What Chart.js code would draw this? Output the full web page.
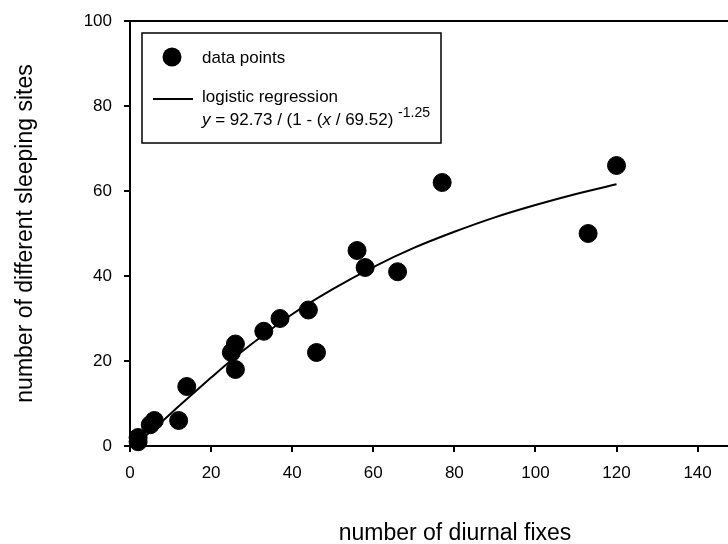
<!DOCTYPE html>
<html>
<head>
<meta charset="utf-8">
<script src="https://cdn.jsdelivr.net/npm/chart.js@4"></script>
<style>
  body { margin: 0; background: #fff; overflow: hidden; }
  canvas { display: block; }
</style>
</head>
<body>
<canvas id="sleepChart" width="728" height="544"></canvas>
<script>
// observed data
const diurnalFixes = [2, 2, 5, 6, 12, 14, 25, 26, 26, 33, 37, 44, 46, 56, 58, 66, 77, 113, 120];
const sleepingSites = [1, 2, 5, 6, 6, 14, 22, 24, 18, 27, 30, 32, 22, 46, 42, 41, 62, 50, 66];

// fitted curve
const fitX = [1, 2, 5, 10, 15, 20, 25, 30, 40, 50, 60, 70, 80, 90, 100, 110, 120];
const fitY = [0.5, 1.1, 3.3, 7.6, 11.9, 16.1, 20.2, 24.0, 31.0, 36.9, 42.1, 46.6, 50.4, 53.8, 56.7, 59.3, 61.6];

const xTicks = [0, 20, 40, 60, 80, 100, 120, 140];
const yTicks = [0, 20, 40, 60, 80, 100];

const FONT = "'Liberation Sans', Arial, sans-serif";

const pointData = diurnalFixes.map((x, i) => ({ x: x, y: sleepingSites[i] }));
const fitData = fitX.map((x, i) => ({ x: x, y: fitY[i] }));

const decorations = {
  id: 'decorations',
  afterDraw(chart) {
    const c = chart.ctx;
    const a = chart.chartArea;
    c.save();
    // top frame line
    c.strokeStyle = '#000';
    c.lineWidth = 2;
    c.beginPath();
    c.moveTo(a.left - 1, a.top);
    c.lineTo(a.right, a.top);
    c.stroke();

    // axis titles
    c.fillStyle = '#000';
    c.font = '23px ' + FONT;
    c.textAlign = 'center';
    c.textBaseline = 'middle';
    c.fillText('number of diurnal fixes', 455, 534);
    c.save();
    c.translate(26, (a.top + a.bottom) / 2);
    c.rotate(-Math.PI / 2);
    c.fillText('number of different sleeping sites', 0, 0);
    c.restore();

    // legend
    c.lineWidth = 1.5;
    c.strokeRect(142, 33, 299, 110);
    c.beginPath();
    c.arc(172, 57, 9.5, 0, Math.PI * 2);
    c.fill();
    c.lineWidth = 2;
    c.beginPath();
    c.moveTo(153, 99);
    c.lineTo(193, 99);
    c.stroke();

    c.textAlign = 'left';
    c.textBaseline = 'alphabetic';
    c.font = '17px ' + FONT;
    c.fillText('data points', 202, 63);
    c.fillText('logistic regression', 202, 102);

    let x = 202;
    const y = 125;
    const parts = [
      ['y', true], [' = 92.73 / (1 - (', false], ['x', true], [' / 69.52) ', false]
    ];
    parts.forEach(p => {
      c.font = (p[1] ? 'italic ' : '') + '17px ' + FONT;
      c.fillText(p[0], x, y);
      x += c.measureText(p[0]).width;
    });
    c.font = '14px ' + FONT;
    c.fillText('-1.25', x, 117);
    c.restore();
  }
};

new Chart(document.getElementById('sleepChart'), {
  type: 'scatter',
  data: {
    datasets: [{
      label: 'data points',
      data: pointData,
      backgroundColor: '#000',
      borderColor: '#000',
      borderWidth: 1,
      pointRadius: 9,
      pointHoverRadius: 9,
      clip: false
    }, {
      label: 'logistic regression',
      data: fitData,
      showLine: true,
      borderColor: '#000',
      borderWidth: 2,
      pointRadius: 0,
      cubicInterpolationMode: 'monotone'
    }]
  },
  options: {
    responsive: false,
    animation: false,
    layout: { autoPadding: false, padding: { top: 21, left: 0, right: 0, bottom: 0 } },
    plugins: {
      legend: { display: false },
      tooltip: { enabled: false }
    },
    scales: {
      x: {
        type: 'linear',
        min: 0,
        max: 147.5,
        afterFit(scale) {
          scale.height = 98;
          scale.paddingLeft = 0;
          scale.paddingRight = 0;
        },
        afterBuildTicks(scale) { scale.ticks = xTicks.map(v => ({ value: v })); },
        border: { display: true, color: '#000', width: 2 },
        grid: { drawOnChartArea: false, drawTicks: true, tickLength: 6, color: '#000', lineWidth: 2 },
        ticks: { color: '#000', padding: 11, maxRotation: 0, font: { family: FONT, size: 17 } }
      },
      y: {
        type: 'linear',
        min: 0,
        max: 100,
        afterFit(scale) {
          scale.width = 130;
          scale.paddingTop = 0;
          scale.paddingBottom = 0;
        },
        afterBuildTicks(scale) { scale.ticks = yTicks.map(v => ({ value: v })); },
        border: { display: true, color: '#000', width: 2 },
        grid: { drawOnChartArea: false, drawTicks: true, tickLength: 6, color: '#000', lineWidth: 2 },
        ticks: { color: '#000', padding: 12, font: { family: FONT, size: 17 } }
      }
    }
  },
  plugins: [decorations]
});
</script>
</body>
</html>
